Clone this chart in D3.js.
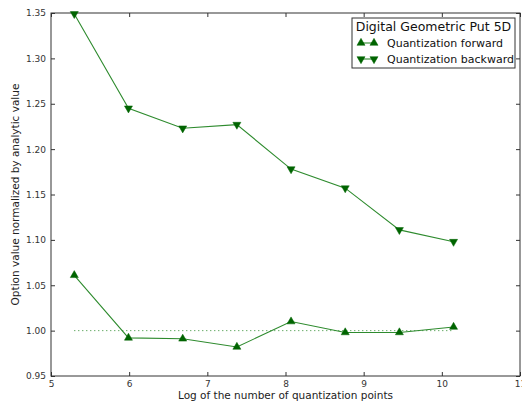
<!DOCTYPE html>
<html>
<head>
<meta charset="utf-8">
<script src="https://cdn.jsdelivr.net/npm/d3@7"></script>
<style>
  body { margin: 0; background: #fff; }
  svg text { font-family: "DejaVu Sans", sans-serif; }
</style>
</head>
<body>
<div id="chart"></div>
<script>
// log of number of quantization points
let logPoints = [5.298, 5.991, 6.685, 7.378, 8.071, 8.764, 9.457, 10.150];
let forwardVals = [1.061, 0.992, 0.991, 0.982, 1.010, 0.998, 0.998, 1.004];
let backwardVals = [1.349, 1.245, 1.223, 1.227, 1.178, 1.157, 1.111, 1.098];
let xTicks = [5, 6, 7, 8, 9, 10, 11];
let yTicks = [0.95, 1.00, 1.05, 1.10, 1.15, 1.20, 1.25, 1.30, 1.35];
let legendTitle = "Digital Geometric Put 5D";
let seriesNames = ["Quantization forward", "Quantization backward"];

let width = 522, height = 405;
let margin = {left: 51, top: 13, right: 2, bottom: 29};
let lineColor = "#2e8b2e", markColor = "#006400";

let svg = d3.select("#chart").append("svg")
    .attr("width", width)
    .attr("height", height);

let x = d3.scaleLinear().domain([5, 11]).range([margin.left, width - margin.right]);
let y = d3.scaleLinear().domain([0.95, 1.35]).range([height - margin.bottom, margin.top]);

let plotW = x.range()[1] - x.range()[0];
let plotH = y.range()[0] - y.range()[1];

// axes, ticks pointing inside on all four sides
let fmt = d3.format(".2f");
let axBottom = svg.append("g").attr("transform", "translate(0," + y(0.95) + ")")
    .call(d3.axisBottom(x).tickValues(xTicks).tickFormat(d3.format("d")).tickSizeInner(-4).tickSizeOuter(0).tickPadding(5));
let axTop = svg.append("g").attr("transform", "translate(0," + y(1.35) + ")")
    .call(d3.axisTop(x).tickValues(xTicks).tickFormat("").tickSizeInner(-4).tickSizeOuter(0));
let axLeft = svg.append("g").attr("transform", "translate(" + x(5) + ",0)")
    .call(d3.axisLeft(y).tickValues(yTicks).tickFormat(fmt).tickSizeInner(-4).tickSizeOuter(0).tickPadding(5));
let axRight = svg.append("g").attr("transform", "translate(" + x(11) + ",0)")
    .call(d3.axisRight(y).tickValues(yTicks).tickFormat("").tickSizeInner(-4).tickSizeOuter(0));

[axBottom, axTop, axLeft, axRight].forEach(g => {
    g.select(".domain").remove();
    g.selectAll(".tick line").attr("stroke", "#333");
    g.selectAll(".tick text").attr("fill", "#333").style("font-size", "9px");
});

svg.append("rect")
    .attr("x", x(5)).attr("y", y(1.35))
    .attr("width", plotW).attr("height", plotH)
    .attr("fill", "none").attr("stroke", "#333").attr("stroke-width", 1);

// reference line at 1
svg.append("line")
    .attr("x1", x(logPoints[0])).attr("x2", x(logPoints[logPoints.length - 1]))
    .attr("y1", y(1)).attr("y2", y(1))
    .attr("stroke", lineColor).attr("stroke-width", 1)
    .attr("stroke-dasharray", "1,3");

let line = d3.line().x(d => x(d[0])).y(d => y(d[1]));
let triUp = d3.symbol().type(d3.symbolTriangle).size(28);

function drawSeries(vals, up) {
    let pts = logPoints.map((p, i) => [p, vals[i]]);
    svg.append("path").datum(pts)
        .attr("d", line)
        .attr("fill", "none")
        .attr("stroke", lineColor)
        .attr("stroke-width", 1.1);
    svg.selectAll(null).data(pts).enter().append("path")
        .attr("d", triUp)
        .attr("transform", d => "translate(" + x(d[0]) + "," + y(d[1]) + ")" + (up ? "" : " rotate(180)"))
        .attr("fill", markColor)
        .attr("stroke", markColor)
        .attr("stroke-width", 0.5);
}
drawSeries(forwardVals, true);
drawSeries(backwardVals, false);

// axis labels
svg.append("text")
    .attr("x", (x(5) + x(11)) / 2).attr("y", height - 6)
    .attr("text-anchor", "middle")
    .style("font-size", "10.5px").attr("fill", "#222")
    .text("Log of the number of quantization points");
svg.append("text")
    .attr("transform", "translate(19," + (y(1.35) + plotH / 2) + ") rotate(-90)")
    .attr("text-anchor", "middle")
    .style("font-size", "10.5px").attr("fill", "#222")
    .text("Option value normalized by analytic value");

// legend
let lg = svg.append("g").attr("transform", "translate(352,18)");
lg.append("rect").attr("width", 163).attr("height", 50)
    .attr("fill", "#fff").attr("stroke", "#333").attr("stroke-width", 1);
lg.append("text").attr("x", 81.5).attr("y", 13).attr("text-anchor", "middle")
    .style("font-size", "12.5px").attr("fill", "#111").text(legendTitle);
seriesNames.forEach((name, i) => {
    let yy = 25 + i * 16;
    lg.append("line").attr("x1", 9).attr("x2", 22).attr("y1", yy).attr("y2", yy)
        .attr("stroke", lineColor).attr("stroke-width", 1.1);
    [9, 22].forEach(px => {
        lg.append("path").attr("d", triUp)
            .attr("transform", "translate(" + px + "," + yy + ")" + (i === 0 ? "" : " rotate(180)"))
            .attr("fill", markColor).attr("stroke", markColor).attr("stroke-width", 0.5);
    });
    lg.append("text").attr("x", 35).attr("y", yy + 4)
        .style("font-size", "11px").attr("fill", "#111").text(name);
});
</script>
</body>
</html>
